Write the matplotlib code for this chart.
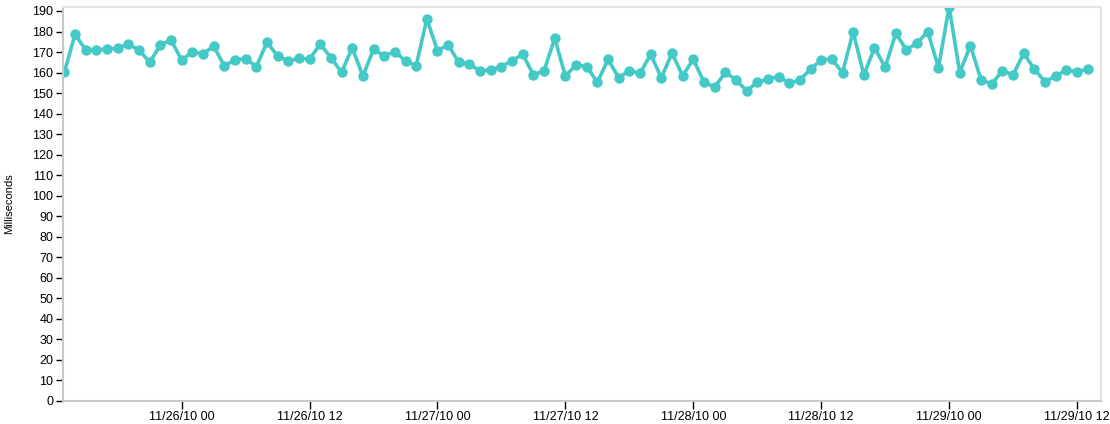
import matplotlib
matplotlib.use("Agg")
import matplotlib.pyplot as plt
import matplotlib.dates as mdates
import pandas as pd

# hourly response times, 11/25/10 13:00 -> 11/29/10 13:00
start = "2010-11-25 13:00"
values = [
    160.3, 178.6, 171.0, 171.0, 171.5, 171.8, 173.8, 171.0, 165.0, 173.4,
    175.9, 166.0, 170.1, 169.0, 172.9, 163.2, 166.1, 166.8, 162.9, 174.7,
    168.1, 165.6, 166.9, 166.6, 173.8, 167.3, 160.1, 172.0, 158.3, 171.3,
    168.2, 170.2, 165.6, 163.4, 186.1, 170.7, 173.4, 165.0, 164.0, 160.8,
    161.2, 162.9, 165.8, 168.9, 158.8, 160.9, 176.7, 158.3, 163.7, 162.9,
    155.2, 166.4, 157.5, 160.9, 159.6, 168.9, 157.5, 169.4, 158.5, 166.4,
    155.4, 152.8, 160.1, 156.4, 151.1, 155.2, 156.8, 158.0, 154.8, 156.4,
    161.7, 166.1, 166.6, 159.9, 179.9, 158.8, 172.1, 162.6, 179.1, 171.0,
    174.5, 179.9, 162.4, 192.0, 160.0, 173.1, 156.4, 154.4, 160.9, 158.8,
    169.4, 161.6, 155.5, 158.3, 161.2, 160.4, 161.6,
]
times = pd.date_range(start, periods=len(values), freq="h")

y_ticks = list(range(0, 200, 10))
color = "#45c9c6"

plt.rcParams["font.family"] = ["Liberation Sans", "DejaVu Sans"]

fig = plt.figure(figsize=(11.1, 4.24), dpi=100)
ax = fig.add_axes([63 / 1110, 1 - 400.7 / 424, (1101 - 63) / 1110, (400.7 - 7.3) / 424])

ax.plot(times, values, color=color, linewidth=2.6, marker="o", markersize=7.5,
        markeredgewidth=0, solid_joinstyle="round")

ax.set_ylim(0, 191.8)
ax.set_yticks(y_ticks)
ax.set_xlim(pd.Timestamp("2010-11-25 12:52"), pd.Timestamp("2010-11-29 14:15"))
ax.xaxis.set_major_locator(mdates.HourLocator(byhour=[0, 12]))
ax.xaxis.set_major_formatter(mdates.DateFormatter("%m/%d/%y %H"))

ax.tick_params(axis="both", labelsize=9, colors="black", length=5, width=1)
ax.tick_params(axis="x", length=6, pad=1.5)
ax.tick_params(axis="y", pad=2)

for side in ["top", "right"]:
    ax.spines[side].set_color("#e3e3e3")
    ax.spines[side].set_linewidth(1.5)
for side in ["left", "bottom"]:
    ax.spines[side].set_color("#c8c8c8")
    ax.spines[side].set_linewidth(1.5)

ax.set_ylabel("Milliseconds", fontsize=8)
ax.yaxis.set_label_coords(-0.047, 0.5)

fig.savefig("out.png", dpi=100, facecolor="white")
